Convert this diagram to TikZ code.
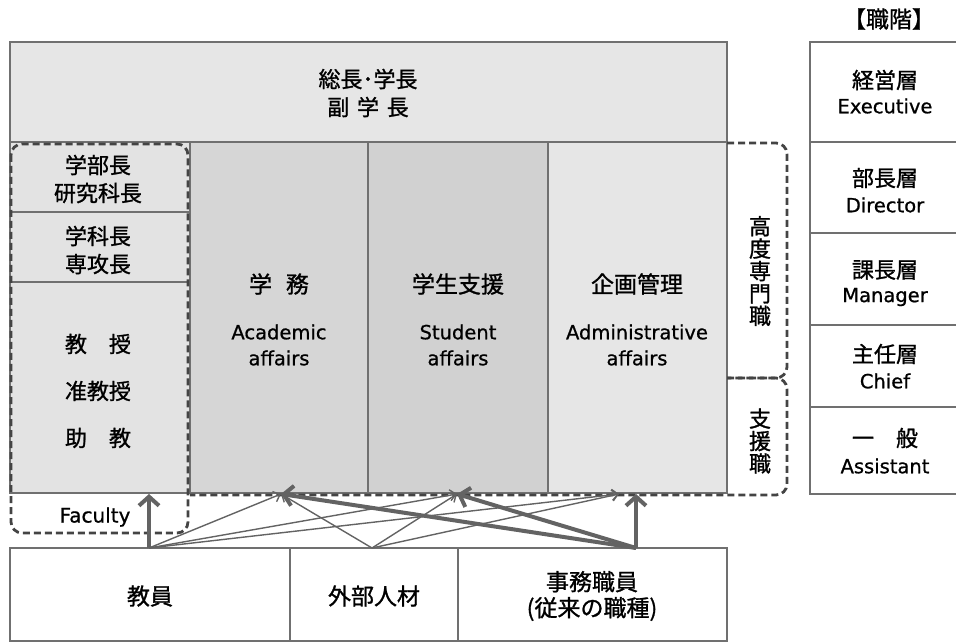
\documentclass[tikz,border=0pt]{standalone}
\usepackage{fontspec}
\setmainfont[FakeBold=1.1]{Noto Sans CJK JP}
\newfontfamily\latf[FakeBold=0.8]{DejaVu Sans}
\usetikzlibrary{arrows.meta}
\definecolor{edge}{HTML}{707070}
\definecolor{fillA}{HTML}{E6E6E6}
\definecolor{fillB}{HTML}{D6D6D6}
\definecolor{fillC}{HTML}{D1D1D1}
\definecolor{fillL}{HTML}{E3E3E3}
\definecolor{arr}{HTML}{636363}
\definecolor{dsh}{HTML}{444444}
\begin{document}
\begin{tikzpicture}[x=1pt,y=-1pt,
  box/.style={draw=edge,line width=1.3pt,inner sep=0pt,outer sep=0pt,anchor=north west},
  jt/.style={font=\fontsize{22}{28}\selectfont,align=center,inner sep=0pt},
  lt/.style={font=\latf\fontsize{19.5}{26}\selectfont,align=center,inner sep=0pt},
  grp/.style={draw=dsh,line width=2.8pt,dash pattern=on 7pt off 4pt,rounded corners=11pt},
  thinarr/.style={draw=arr,line width=1.4pt,-{Straight Barb[length=6pt,width=11pt]}},
  thickarr/.style={draw=arr,line width=4pt,-{Straight Barb[length=9pt,width=20pt]}},
]
\useasboundingbox (0,0) rectangle (956,644);

% main boxes
\node[box,fill=fillA,minimum width=717pt,minimum height=100pt] (top) at (10,42) {};
\node[box,fill=fillL,minimum width=180pt,minimum height=70pt] (dean) at (10,142) {};
\node[box,fill=fillL,minimum width=180pt,minimum height=70pt] (chair) at (10,212) {};
\node[box,fill=fillL,minimum width=180pt,minimum height=211pt] (prof) at (10,282) {};
\node[box,fill=fillB,minimum width=178pt,minimum height=351pt] (gakumu) at (190,142) {};
\node[box,fill=fillC,minimum width=180pt,minimum height=351pt] (shien) at (368,142) {};
\node[box,fill=fillA,minimum width=179pt,minimum height=351pt] (kikaku) at (548,142) {};

% rank column
\node[box,fill=white,minimum width=150pt,minimum height=100pt] (exe) at (810,42) {};
\node[box,fill=white,minimum width=150pt,minimum height=91pt] (dir) at (810,142) {};
\node[box,fill=white,minimum width=150pt,minimum height=92pt] (mgr) at (810,233) {};
\node[box,fill=white,minimum width=150pt,minimum height=82pt] (chf) at (810,325) {};
\node[box,fill=white,minimum width=150pt,minimum height=87pt] (ast) at (810,407) {};

% bottom boxes
\node[box,fill=white,minimum width=280pt,minimum height=93pt] (kyoin) at (10,548) {};
\node[box,fill=white,minimum width=168pt,minimum height=93pt] (gaibu) at (290,548) {};
\node[box,fill=white,minimum width=269pt,minimum height=93pt] (jimu) at (458,548) {};

% dashed groups
\draw[grp] (11,144) rectangle (188,533);
\draw[grp] (727,143) -- (787,143) -- (787,378) -- (727,378);
\draw[grp] (727,378) -- (787,378) -- (787,495) -- (190,495);

% texts
\node[jt] (ttop) at (368,93) {総長･学長\\副\hspace{0.35em}学\hspace{0.35em}長};
\node[jt] (tdean) at (98,179) {学部長\\研究科長};
\node[jt] (tchair) at (98,250) {学科長\\専攻長};
\node[jt,font=\fontsize{22}{47}\selectfont] (tprof) at (98,391) {教　授\\准教授\\助　教};

\node[jt,font=\fontsize{23}{28}\selectfont] (hgaku) at (279,284) {学\hspace{0.6em}務};
\node[lt] (egaku) at (279,345) {Academic\\affairs};
\node[jt,font=\fontsize{23}{28}\selectfont] (hshien) at (458,284) {学生支援};
\node[lt] (eshien) at (458,345) {Student\\affairs};
\node[jt,font=\fontsize{23}{28}\selectfont] (hkikaku) at (637,284) {企画管理};
\node[lt] (ekikaku) at (637,345) {Administrative\\affairs};

\node[jt,font=\fontsize{22}{22.4}\selectfont] (vsenmon) at (760,271) {高\\度\\専\\門\\職};
\node[jt,font=\fontsize{22}{22.4}\selectfont] (vshien) at (760,441) {支\\援\\職};

\node[jt,font=\fontsize{23}{28}\selectfont] (tshokkai) at (889,19) {【職階】};
\node[jt] (rexe) at (885,80) {経営層};
\node[lt] (rexeE) at (885,106) {Executive};
\node[jt] (rdir) at (885,178) {部長層};
\node[lt] (rdirE) at (885,205) {Director};
\node[jt] (rmgr) at (885,270) {課長層};
\node[lt] (rmgrE) at (885,297) {Manager};
\node[jt] (rchf) at (885,354) {主任層};
\node[lt] (rchfE) at (885,381) {Chief};
\node[jt] (rast) at (885,438) {一　般};
\node[lt] (rastE) at (885,466) {Assistant};

\node[jt,font=\fontsize{23}{26}\selectfont] (tkyoin) at (150,596) {教員};
\node[jt,font=\fontsize{23}{26}\selectfont] (tgaibu) at (374,596) {外部人材};
\node[jt,font=\fontsize{23}{26}\selectfont] (tjimu) at (592,596) {事務職員\\(従来の職種)};
\node[lt,font=\latf\fontsize{20}{22}\selectfont] (tfac) at (95,517) {Faculty};

% connectors
\coordinate (sA) at (149,548);
\coordinate (sB) at (372,548);
\coordinate (sC) at (636,548);
\coordinate (tF) at (149,494);
\coordinate (t1) at (281,494);
\coordinate (t2) at (457,494);
\coordinate (t3) at (619,494);
\coordinate (t3b) at (636,494);

\draw[thinarr] (sA) -- (t1);
\draw[thinarr] (sA) -- (t2);
\draw[thinarr] (sA) -- (t3);
\draw[thinarr] (sB) -- (t1);
\draw[thinarr] (sB) -- (t2);
\draw[thinarr] (sB) -- (t3);
\draw[thickarr] (sA) -- (tF);
\draw[thickarr] (sC) -- (t1);
\draw[thickarr] (sC) -- (t2);
\draw[thickarr] (sC) -- (t3b);
\end{tikzpicture}
\end{document}
